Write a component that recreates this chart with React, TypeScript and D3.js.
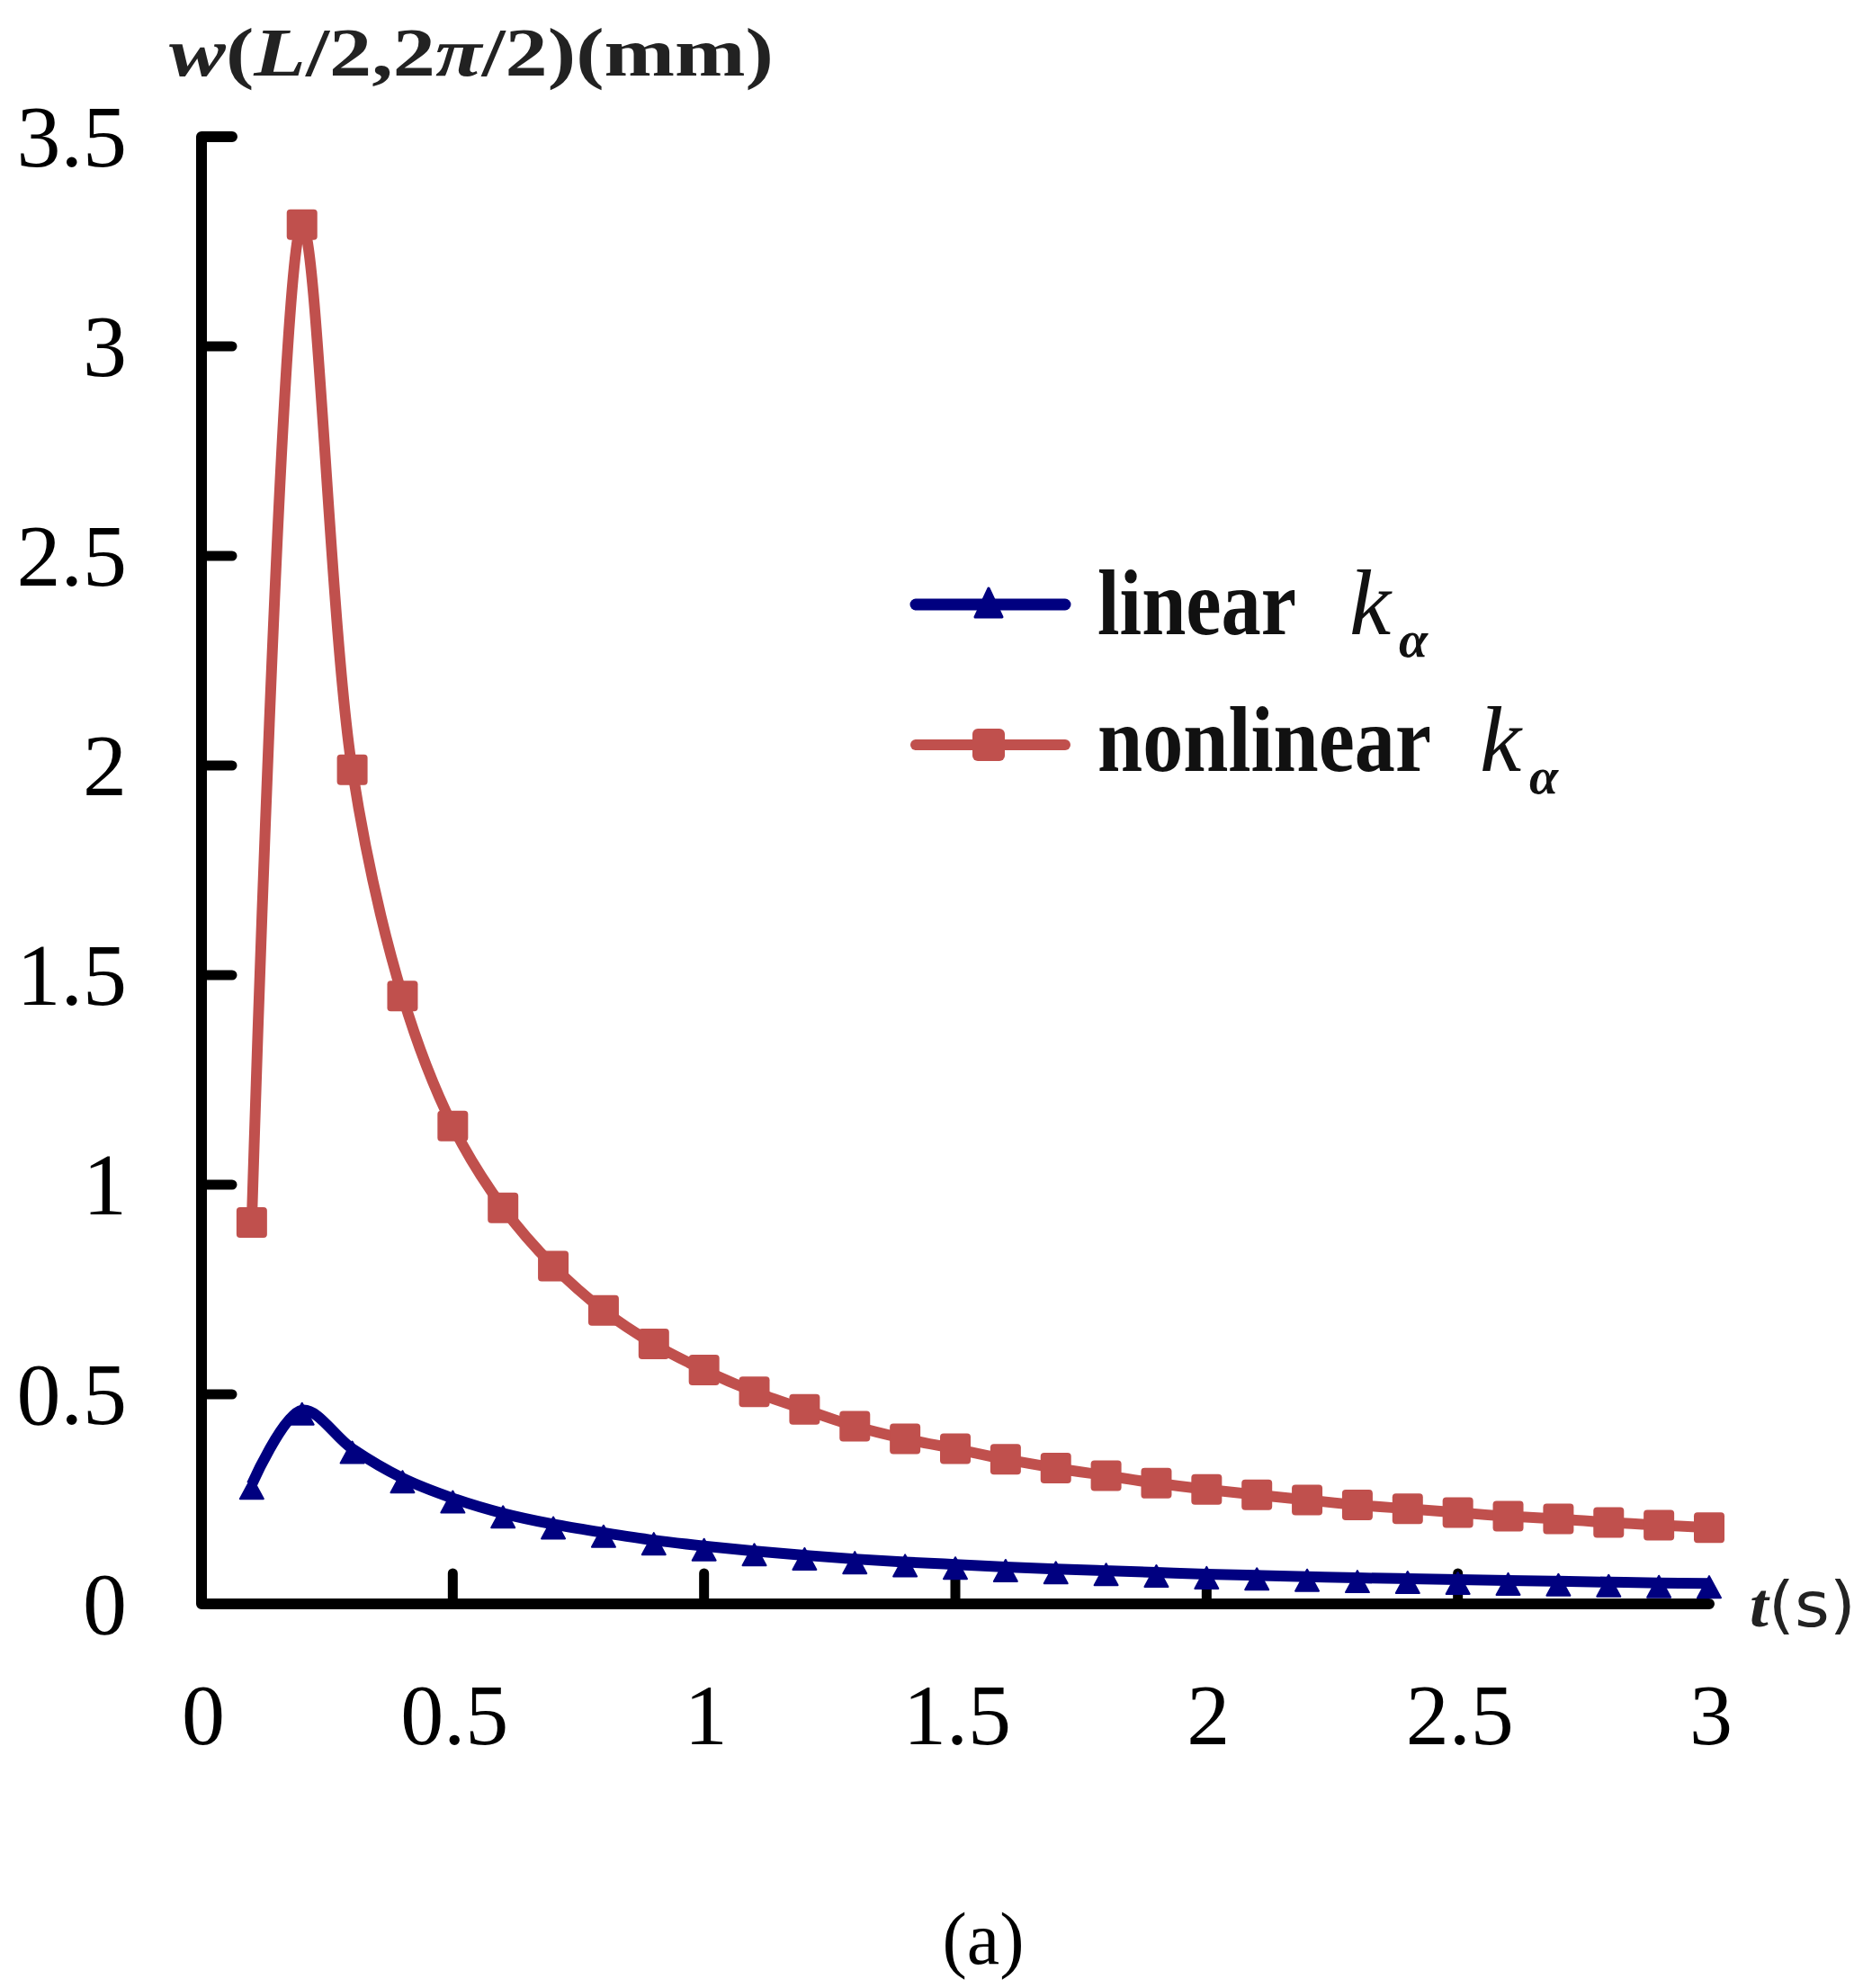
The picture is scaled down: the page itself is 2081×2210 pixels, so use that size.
import React from "react";
import * as d3 from "d3";

const tValues = [0.1,0.2,0.3,0.4,0.5,0.6,0.7,0.8,0.9,1.0,1.1,1.2,1.3,1.4,1.5,1.6,1.7,1.8,1.9,2.0,2.1,2.2,2.3,2.4,2.5,2.6,2.7,2.8,2.9,3.0];
const nonlinearValues = [0.91,3.29,1.99,1.45,1.14,0.945,0.806,0.70,0.62,0.558,0.506,0.464,0.424,0.394,0.37,0.345,0.324,0.306,0.288,0.273,0.26,0.248,0.236,0.227,0.218,0.209,0.203,0.194,0.188,0.182];
const linearValues = [0.285,0.462,0.37,0.30,0.252,0.216,0.19,0.17,0.152,0.138,0.126,0.116,0.107,0.1,0.094,0.088,0.083,0.079,0.075,0.071,0.068,0.065,0.062,0.06,0.058,0.056,0.054,0.052,0.05,0.049];
const xTicks = [0,0.5,1,1.5,2,2.5,3];
const yTicks = [0,0.5,1,1.5,2,2.5,3,3.5];
const xTickLabels = ["0","0.5","1","1.5","2","2.5","3"];
const yTickLabels = ["0","0.5","1","1.5","2","2.5","3","3.5"];

const RED = "#C0504D";
const BLUE = "#000080";
const SERIF = "'Liberation Serif', 'Times New Roman', serif";

export default function App() {
  const W = 2081, H = 2210;
  const x = d3.scaleLinear().domain([0, 3]).range([224, 1900]);
  const y = d3.scaleLinear().domain([0, 3.5]).range([1783, 152]);

  const line = d3.line<number>()
    .x((_, i) => x(tValues[i]))
    .y((d) => y(d))
    .curve(d3.curveCatmullRom.alpha(0.5));

  const tri = (cx: number, cy: number, w: number, h: number) =>
    `M${cx - w / 2},${cy + h / 2}L${cx},${cy - h / 2}L${cx + w / 2},${cy + h / 2}Z`;

  const sq = 34;

  return (
    <svg width={W} height={H} style={{ position: "absolute", left: 0, top: 0, background: "#fff" }}>
      <rect x={0} y={0} width={W} height={H} fill="#fff" />

      {/* axes */}
      <path
        d={`M${x(0) + 34},${y(3.5)}L${x(0)},${y(3.5)}L${x(0)},${y(0)}L${x(3)},${y(0)}`}
        fill="none" stroke="#000" strokeWidth={12} strokeLinejoin="round" strokeLinecap="round"
      />
      {yTicks.slice(1, -1).map((v) => (
        <line key={"yt" + v} x1={x(0)} x2={x(0) + 34} y1={y(v)} y2={y(v)} stroke="#000" strokeWidth={11} strokeLinecap="round" />
      ))}
      {xTicks.slice(1, -1).map((v) => (
        <line key={"xt" + v} x1={x(v)} x2={x(v)} y1={y(0)} y2={y(0) - 34} stroke="#000" strokeWidth={11} strokeLinecap="round" />
      ))}

      {/* tick labels */}
      {yTicks.map((v, i) => (
        <text key={"yl" + v} x={141} y={y(v) + 33} fontFamily={SERIF} fontSize={98} textAnchor="end" fill="#000">
          {yTickLabels[i]}
        </text>
      ))}
      {xTicks.map((v, i) => (
        <text key={"xl" + v} x={x(v) + 2} y={1939} fontFamily={SERIF} fontSize={96} textAnchor="middle" fill="#000">
          {xTickLabels[i]}
        </text>
      ))}

      {/* series lines */}
      <path d={line(nonlinearValues) || ""} fill="none" stroke={RED} strokeWidth={12} strokeLinejoin="round" />
      <path d={line(linearValues) || ""} fill="none" stroke={BLUE} strokeWidth={12} strokeLinejoin="round" />

      {nonlinearValues.map((v, i) => (
        <rect key={"r" + i} x={x(tValues[i]) - sq / 2} y={y(v) - sq / 2} width={sq} height={sq} rx={4} fill={RED} />
      ))}
      {linearValues.map((v, i) => (
        <path key={"b" + i} d={tri(x(tValues[i]), y(v) + 4, 26, 24)} fill={BLUE} stroke={BLUE} strokeWidth={2} strokeLinejoin="round" />
      ))}

      {/* axis titles */}
      <text x={188} y={84} fontFamily={SERIF} fontSize={76} fontWeight="bold" fill="#222" textLength={672} lengthAdjust="spacingAndGlyphs">
        <tspan fontStyle="italic">w</tspan>
        <tspan>(</tspan>
        <tspan fontStyle="italic">L</tspan>
        <tspan>/2,2</tspan>
        <tspan fontStyle="italic">π</tspan>
        <tspan>/2)(mm)</tspan>
      </text>
      <text x={1945} y={1808} fontFamily={SERIF} fontSize={70} fontWeight="bold" fill="#222" textLength={118} lengthAdjust="spacingAndGlyphs">
        <tspan fontStyle="italic">t</tspan>
        <tspan fontFamily="'DejaVu Sans', sans-serif" fontWeight="normal">(s)</tspan>
      </text>

      {/* legend */}
      <line x1={1018} x2={1184} y1={672} y2={672} stroke={BLUE} strokeWidth={13} strokeLinecap="round" />
      <path d={tri(1099, 670, 30, 32)} fill={BLUE} stroke={BLUE} strokeWidth={3} strokeLinejoin="round" />
      <text x={1220} y={705} fontFamily={SERIF} fontSize={104} fontWeight="bold" fill="#111" textLength={221} lengthAdjust="spacingAndGlyphs">linear</text>
      <text x={1500} y={705} fontFamily={SERIF} fontSize={104} fontStyle="italic" fill="#111">k</text>
      <text x={1555} y={730} fontFamily={SERIF} fontSize={58} fontStyle="italic" fontWeight="bold" fill="#111">α</text>

      <line x1={1018} x2={1184} y1={828} y2={828} stroke={RED} strokeWidth={12} strokeLinecap="round" />
      <rect x={1099 - 18} y={828 - 18} width={36} height={36} rx={6} fill={RED} />
      <text x={1220} y={857} fontFamily={SERIF} fontSize={104} fontWeight="bold" fill="#111" textLength={371} lengthAdjust="spacingAndGlyphs">nonlinear</text>
      <text x={1645} y={857} fontFamily={SERIF} fontSize={104} fontStyle="italic" fill="#111">k</text>
      <text x={1700} y={882} fontFamily={SERIF} fontSize={58} fontStyle="italic" fontWeight="bold" fill="#111">α</text>

      {/* caption */}
      <text x={1093} y={2183} fontFamily={SERIF} fontSize={82} textAnchor="middle" fill="#000">(a)</text>
    </svg>
  );
}
